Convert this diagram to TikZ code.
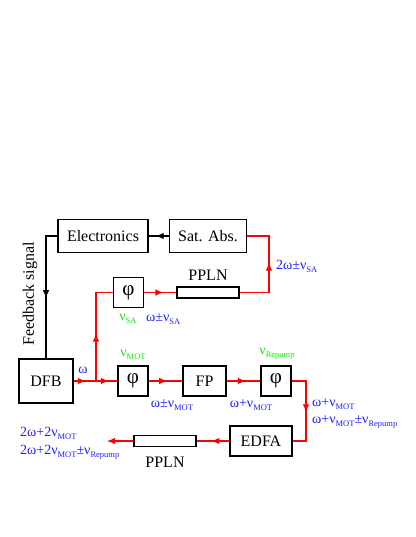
\documentclass[tikz,border=0pt]{standalone}
\usepackage{fontspec}
\setmainfont{Liberation Serif}
\usetikzlibrary{arrows.meta, decorations.markings}

\definecolor{lblblue}{RGB}{30,30,255}
\definecolor{lblgreen}{RGB}{20,225,20}
\newcommand{\lo}[1]{\raisebox{-0.45ex}{\fontsize{8.5}{9}\selectfont #1}}

\tikzset{
	block/.style={draw, line width=1.1pt, inner sep=0pt, font=\fontsize{16}{19}\selectfont},
	rod/.style={draw, line width=1.1pt, inner sep=0pt, minimum width=62pt, minimum height=11pt},
	beam/.style={red, line width=1.1pt},
	wire/.style={black, line width=1.1pt},
	tip/.style={postaction={decorate}, decoration={markings, mark=at position #1 with {\arrow{Latex[length=8pt,width=6.5pt]}}}},
	tip/.default=0.5,
	freq/.style={text=lblblue, inner sep=0pt, font=\fontsize{14}{16}\selectfont},
	ref/.style={text=lblgreen, inner sep=0pt, font=\fontsize{14}{16}\selectfont},
	tag/.style={inner sep=0pt, font=\fontsize{16}{19}\selectfont}
}

\begin{document}
\begin{tikzpicture}[x=1pt, y=-1pt]
	\useasboundingbox (0,0) rectangle (415,537);
	\node[block, minimum width=90pt, minimum height=33pt] (elec) at (103,236) {Electronics};
	\node[block, minimum width=77pt, minimum height=33pt] (sat) at (208,236) {Sat. Abs.};
	\node[block, minimum size=30pt, font=\fontsize{21}{21}\selectfont] (phisa) at (128.5,292.5) {φ};
	\node[rod] (pplnA) at (208,292.5) {};
	\node[block, minimum width=54pt, minimum height=44pt] (dfb) at (46,381) {DFB};
	\node[block, minimum size=30pt, font=\fontsize{21}{21}\selectfont] (phimot) at (133,381) {φ};
	\node[block, minimum width=43pt, minimum height=30pt] (fp) at (204.5,381) {FP};
	\node[block, minimum size=30pt, font=\fontsize{21}{21}\selectfont] (phirep) at (276,381) {φ};
	\node[block, minimum width=62pt, minimum height=30pt] (edfa) at (261,441) {EDFA};
	\node[rod] (pplnB) at (165,441) {};

	\coordinate (fbk) at (46,236);
	\coordinate (split) at (96,381);
	\coordinate (sabend) at (269,236);
	\coordinate (edbend) at (306,381);
	\coordinate (out) at (107,441);

	\draw[wire, tip=0.65] (sat) -- (elec);
	\draw[wire, tip=0.55] (elec.west) -- (fbk) -- (dfb.north);
	\draw[beam, tip=0.55] (dfb) -- (split);
	\draw[beam, tip=0.6] (split) -- (phimot);
	\draw[beam, tip=0.45] (split) |- (phisa.west);
	\draw[beam, tip=0.6] (phisa) -- (pplnA);
	\draw[beam, tip=0.55] (pplnA.east) -| (sabend) -- (sat.east);
	\draw[beam, tip=0.55] (phimot) -- (fp);
	\draw[beam, tip=0.57] (fp) -- (phirep);
	\draw[beam, tip=0.52] (phirep.east) -- (edbend) |- (edfa.east);
	\draw[beam, tip=0.55] (edfa) -- (pplnB);
	\draw[beam, -{Latex[length=8pt,width=6.5pt]}] (pplnB.west) -- (out);

	\node[tag] (pplnAlbl) at (208,275) {PPLN};
	\node[tag] (pplnBlbl) at (165,462) {PPLN};
	\node[tag, rotate=90] (fbklbl) at (30,294) {Feedback signal};

	\node[freq, anchor=west] (sa2) at (276,266) {2ω±ν\lo{SA}};
	\node[ref] (nusa) at (128,319) {ν\lo{SA}};
	\node[freq, anchor=west] (sa1) at (146,319) {ω±ν\lo{SA}};
	\node[freq] (om) at (83,370) {ω};
	\node[ref] (numot) at (133,355) {ν\lo{MOT}};
	\node[ref] (nurep) at (277,354) {ν\lo{Repump}};
	\node[freq] (mot1) at (172,405) {ω±ν\lo{MOT}};
	\node[freq] (mot2) at (251,405) {ω+ν\lo{MOT}};
	\node[freq, anchor=west] (rep1) at (312,404) {ω+ν\lo{MOT}};
	\node[freq, anchor=west] (rep2) at (312,422) {ω+ν\lo{MOT}±ν\lo{Repump}};
	\node[freq, anchor=west] (shg1) at (20,433) {2ω+2ν\lo{MOT}};
	\node[freq, anchor=west] (shg2) at (20,452) {2ω+2ν\lo{MOT}±ν\lo{Repump}};
\end{tikzpicture}
\end{document}
